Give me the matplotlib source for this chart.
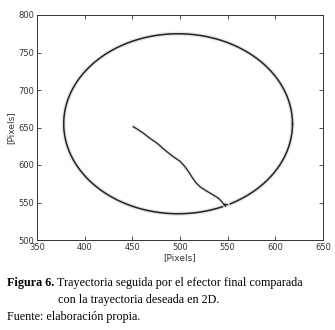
import numpy as np
import matplotlib.pyplot as plt

# desired trajectory: circle in pixel space
circle_center = (498, 655)
circle_radius = 120

# trajectory followed by the end effector
traj_x = [451, 455, 461, 468, 476, 484, 493, 500, 505, 509, 513, 517, 521, 527,
          535, 540, 544, 546, 548, 547, 550]
traj_y = [651, 648, 643, 636, 629, 620, 611, 605, 598, 591, 583, 576, 571, 566,
          560, 556, 551, 547, 545, 548, 547]

x_ticks = [350, 400, 450, 500, 550, 600, 650]
y_ticks = [500, 550, 600, 650, 700, 750, 800]

fig = plt.figure(figsize=(3.35, 3.30), dpi=100)
ax = fig.add_axes([37 / 335, 90 / 330, 286 / 335, 225 / 330])

t = np.linspace(0, 2 * np.pi, 400)
cx = circle_center[0] + circle_radius * np.cos(t)
cy = circle_center[1] + circle_radius * np.sin(t)
ax.plot(cx, cy, color='#e6e6e6', lw=3.0)
ax.plot(cx, cy, color='#222222', lw=1.1)
ax.plot(traj_x, traj_y, color='#e6e6e6', lw=2.5)
ax.plot(traj_x, traj_y, color='#222222', lw=0.9)

ax.set_xlim(350, 650)
ax.set_ylim(500, 800)
ax.set_xticks(x_ticks)
ax.set_yticks(y_ticks)
ax.tick_params(direction='in', length=3, width=0.6, labelsize=6, colors='#333333',
               top=True, right=True, pad=2)
for s in ax.spines.values():
    s.set_linewidth(0.7)
    s.set_color('#333333')
ax.set_xlabel('[Pixels]', fontsize=6.5, labelpad=1, color='#333333')
ax.set_ylabel('[Pixels]', fontsize=6.5, labelpad=2, color='#333333')

cap = dict(family='Liberation Serif', fontsize=8.7, va='center')
fig.text(7 / 335, 1 - 283 / 330, 'Figura 6.', fontweight='bold', **cap)
fig.text(57 / 335, 1 - 283 / 330,
         'Trayectoria seguida por el efector final comparada', **cap)
fig.text(58 / 335, 1 - 300 / 330, 'con la trayectoria deseada en 2D.', **cap)
fig.text(7 / 335, 1 - 317 / 330, 'Fuente: elaboración propia.', **cap)

fig.savefig('out.png', dpi=100)
